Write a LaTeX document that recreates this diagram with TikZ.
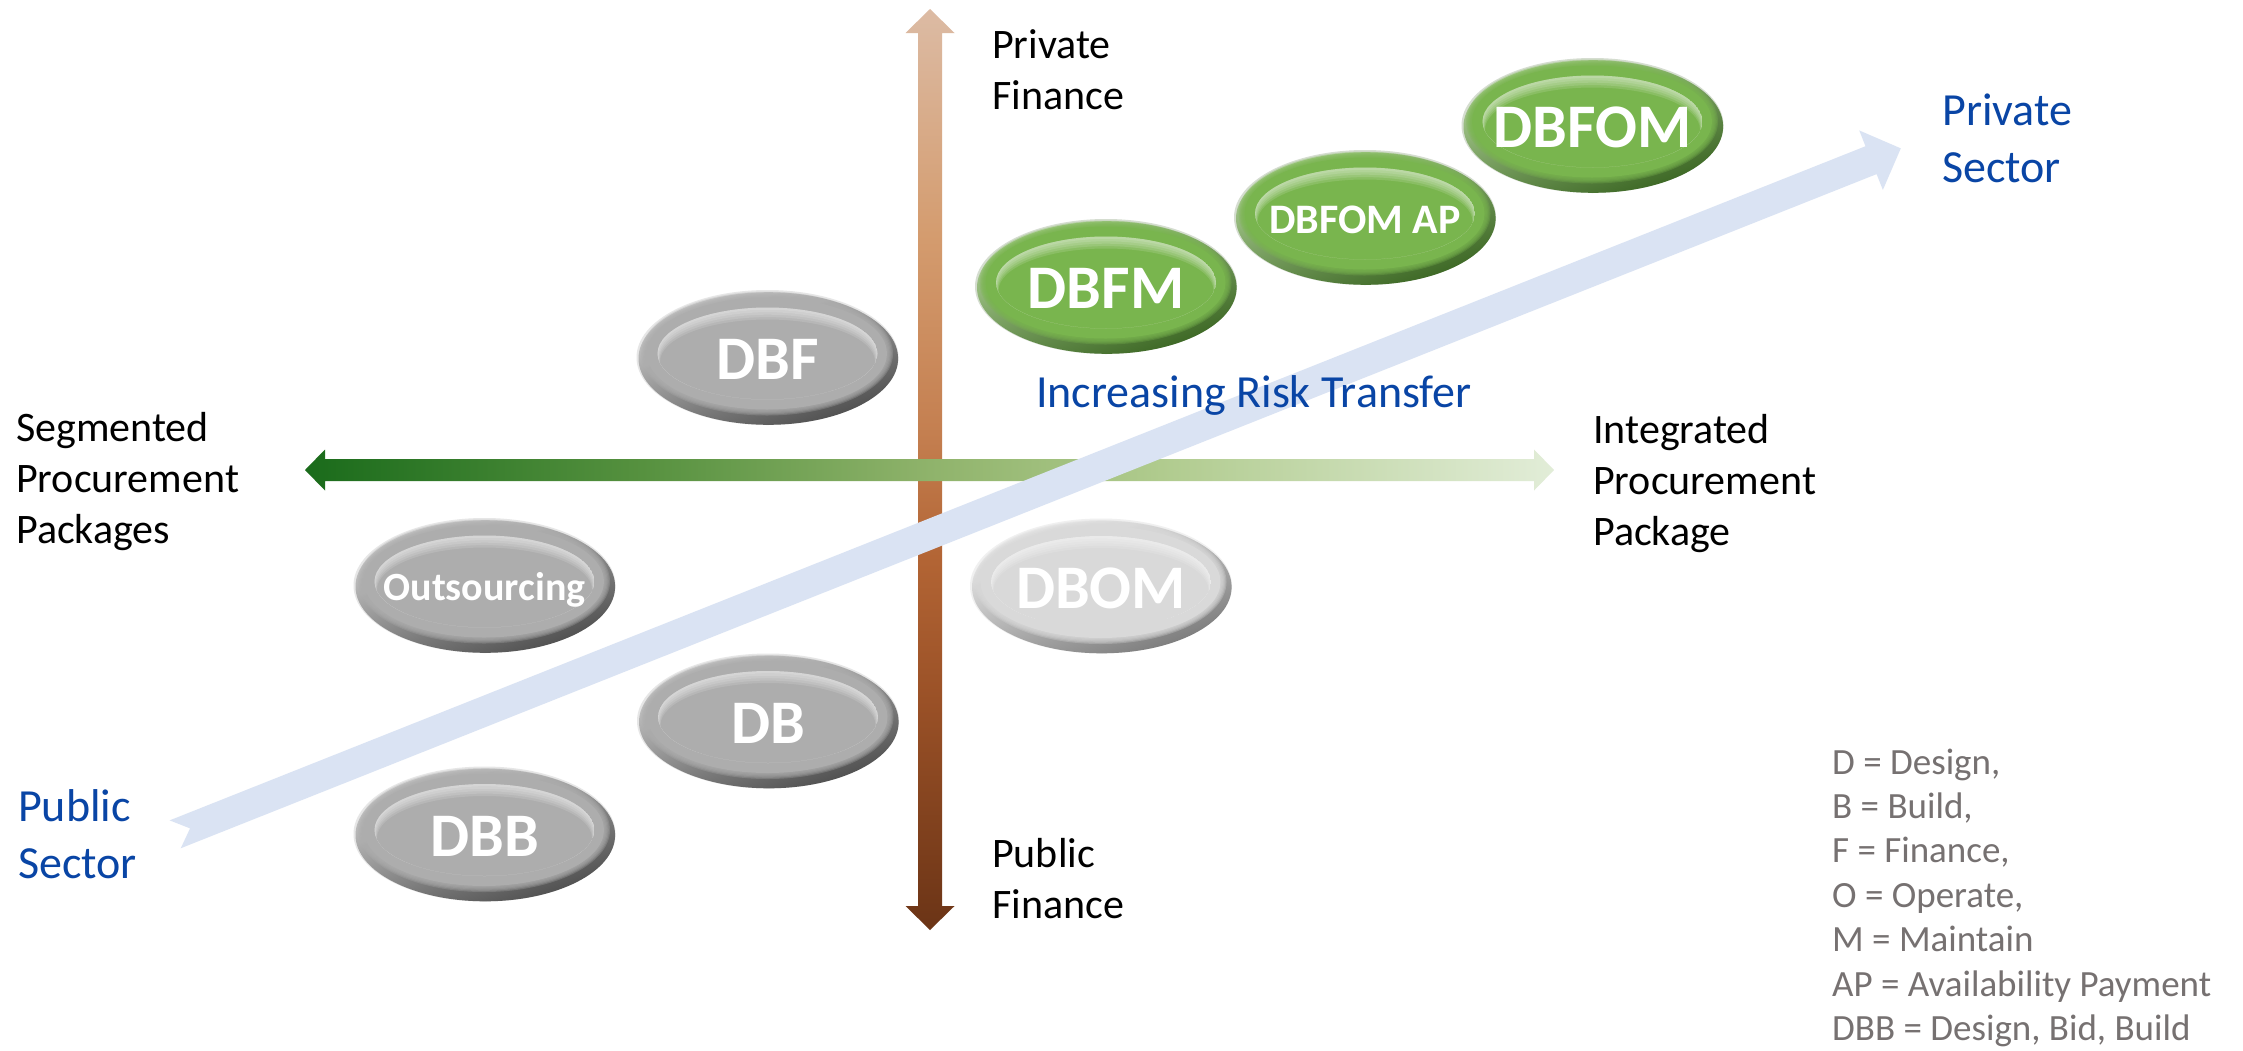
\documentclass[tikz,border=0pt]{standalone}
\usepackage{fontspec}
\setmainfont{Carlito}
\usetikzlibrary{calc}
% arrow colours
\definecolor{brT}{HTML}{DCBBA4}
\definecolor{brA}{HTML}{D49C6F}
\definecolor{brB}{HTML}{C47F50}
\definecolor{brC}{HTML}{B26434}
\definecolor{brE}{HTML}{9A5127}
\definecolor{brD}{HTML}{6B3416}
\definecolor{gA}{HTML}{1A6B1B}
\definecolor{gB}{HTML}{56913F}
\definecolor{gC}{HTML}{8FB36B}
\definecolor{gD}{HTML}{B0CB8E}
\definecolor{gE}{HTML}{E2EDD8}
\definecolor{bandblue}{HTML}{DAE3F3}
\definecolor{sectorblue}{HTML}{0945A5}
\definecolor{legendgray}{HTML}{767171}
% capsule colours
\definecolor{grayFace}{HTML}{ADADAD}
\definecolor{grayTop}{HTML}{D3D3D3}
\definecolor{grayBot}{HTML}{4D4D4D}
\definecolor{grayRim}{HTML}{E6E6E6}
\definecolor{lightFace}{HTML}{D9D9D9}
\definecolor{lightTop}{HTML}{F2F2F2}
\definecolor{lightBot}{HTML}{7A7A7A}
\definecolor{lightRim}{HTML}{F0F0F0}
\definecolor{greenFace}{HTML}{79B54E}
\definecolor{greenTop}{HTML}{B3D59A}
\definecolor{greenBot}{HTML}{3A6522}
\definecolor{greenRim}{HTML}{D5DDD0}
\pgfdeclareverticalshading{brownaxis}{100bp}{color(0bp)=(brD); color(25bp)=(brD); color(37.5bp)=(brE); color(45bp)=(brC); color(52bp)=(brB); color(62.8bp)=(brA); color(75bp)=(brT); color(100bp)=(brT)}
\pgfdeclarehorizontalshading{greenaxis}{100bp}{color(0bp)=(gA); color(25bp)=(gA); color(38.5bp)=(gB); color(50bp)=(gC); color(59.25bp)=(gD); color(75bp)=(gE); color(100bp)=(gE)}
% glossy capsule: #1 centre, #2 face, #3 bevel top, #4 bevel bottom, #5 rim
\newcommand\capsule[5]{%
\begin{scope}[shift={(#1)}]
\fill[#5] (0,0) ellipse [x radius=131, y radius=67.5];
\shade[top color=#3, bottom color=#4, shading angle=20] (0.8,1) ellipse [x radius=129.8, y radius=66.3];
\foreach \k in {0,1,2,3,4} {\fill[#2, opacity=0.3] (-0.5,-4) ellipse [x radius={126-1.2*\k}, y radius={62-1.2*\k}];}
\fill[#2] (-0.5,-4) ellipse [x radius=120, y radius=56];
\begin{scope}
\clip (0,-4) ellipse [x radius=110, y radius=46];
\foreach \k in {1,2,3,4,5} {\fill[white, opacity=0.13, even odd rule] (0,-4) ellipse [x radius=110, y radius=46] (0,{-4+1.6*\k}) ellipse [x radius={110-0.5*\k}, y radius={46-0.8*\k}];}
\end{scope}
\end{scope}}
\begin{document}
\begin{tikzpicture}[x=1pt,y=-1pt,
  lbl/.style={inner sep=0, anchor=base west, text=black, font=\fontsize{42}{51}\selectfont},
  bluelbl/.style={inner sep=0, anchor=base west, text=sectorblue, font=\fontsize{46}{57.5}\selectfont},
  legendtxt/.style={inner sep=0, anchor=base west, text=legendgray, font=\fontsize{37}{44.45}\selectfont},
  capbig/.style={inner sep=0, anchor=base, text=white, font=\fontsize{62}{70}\selectfont\bfseries},
  capsmall/.style={inner sep=0, anchor=base, text=white, font=\fontsize{42}{50}\selectfont\bfseries}]
\useasboundingbox (0,0) rectangle (2243,1050);
\fill[white] (0,0) rectangle (2243,1050);
% vertical finance axis
\coordinate (vtop) at (930,9);
\coordinate (vbot) at (930,930);
\shade[shading=brownaxis] (vtop) -- ++(24.5,24) -- ++(-12.5,0) -- ($(vbot)+(12,-24)$) -- ++(12.5,0) -- (vbot) -- ++(-24.5,-24) -- ++(12.5,0) -- ($(vtop)+(-12,24)$) -- ++(-12.5,0) -- cycle;
% horizontal procurement axis
\coordinate (hleft) at (305,470);
\coordinate (hright) at (1554,470);
\shade[shading=greenaxis] (hleft) -- ++(20,-20.5) -- ++(0,9.5) -- ($(hright)+(-20,-11)$) -- ++(0,-9.5) -- (hright) -- ++(-20,20.5) -- ++(0,-9.5) -- ($(hleft)+(20,11)$) -- ++(0,9.5) -- cycle;
% risk transfer band
\coordinate (bandtail) at (175.2,834.3);
\begin{scope}[shift={(bandtail)}, rotate=21.68]
\fill[bandblue] (0,-15) -- (16,0) -- (0,15) -- (1825,15) -- (1825,32) -- (1857,0) -- (1825,-32) -- (1825,-15) -- cycle;
\end{scope}
% capsules
\coordinate (cDBF) at (767.5,357.5);
\coordinate (cOut) at (484.5,585.5);
\coordinate (cDB) at (768,721);
\coordinate (cDBB) at (484.5,834);
\coordinate (cDBOM) at (1101,586);
\coordinate (cDBFM) at (1106,286.5);
\coordinate (cAP) at (1365,217.5);
\coordinate (cDBFOM) at (1592.5,125.5);
\capsule{cDBF}{grayFace}{grayTop}{grayBot}{grayRim}
\capsule{cOut}{grayFace}{grayTop}{grayBot}{grayRim}
\capsule{cDB}{grayFace}{grayTop}{grayBot}{grayRim}
\capsule{cDBB}{grayFace}{grayTop}{grayBot}{grayRim}
\capsule{cDBOM}{lightFace}{lightTop}{lightBot}{lightRim}
\capsule{cDBFM}{greenFace}{greenTop}{greenBot}{greenRim}
\capsule{cAP}{greenFace}{greenTop}{greenBot}{greenRim}
\capsule{cDBFOM}{greenFace}{greenTop}{greenBot}{greenRim}
\node[capbig] (dbf) at ($(cDBF)+(0,22)$) {DBF};
\node[capsmall, font=\fontsize{40}{48}\selectfont\bfseries] (outs) at ($(cOut)+(0,14.5)$) {Outsourcing};
\node[capbig] (db) at ($(cDB)+(0,22)$) {DB};
\node[capbig] (dbb) at ($(cDBB)+(0,22)$) {DBB};
\node[capbig] (dbom) at ($(cDBOM)+(0,22)$) {DBOM};
\node[capbig] (dbfm) at ($(cDBFM)+(0,22)$) {DBFM};
\node[capsmall] (dbfomap) at ($(cAP)+(0,16)$) {DBFOM AP};
\node[capbig] (dbfom) at ($(cDBFOM)+(0,22)$) {DBFOM};
% axis labels
\node[lbl] (privfin) at (992,58.3) {\begin{tabular}[t]{@{}l@{}}Private\\Finance\end{tabular}};
\node[lbl] (pubfin) at (992,867) {\begin{tabular}[t]{@{}l@{}}Public\\Finance\end{tabular}};
\node[lbl] (segm) at (16,441) {\begin{tabular}[t]{@{}l@{}}Segmented\\Procurement\\Packages\end{tabular}};
\node[lbl] (integ) at (1593,443) {\begin{tabular}[t]{@{}l@{}}Integrated\\Procurement\\Package\end{tabular}};
\node[bluelbl] (privsec) at (1942,125) {\begin{tabular}[t]{@{}l@{}}Private\\Sector\end{tabular}};
\node[bluelbl] (pubsec) at (18,821) {\begin{tabular}[t]{@{}l@{}}Public\\Sector\end{tabular}};
\node[bluelbl] (risk) at (1036,407) {Increasing Risk Transfer};
% legend
\node[legendtxt] (legend) at (1832,774) {\begin{tabular}[t]{@{}l@{}}D = Design,\\B = Build,\\F = Finance,\\O = Operate,\\M = Maintain\\AP = Availability Payment\\DBB = Design, Bid, Build\end{tabular}};
\end{tikzpicture}
\end{document}
